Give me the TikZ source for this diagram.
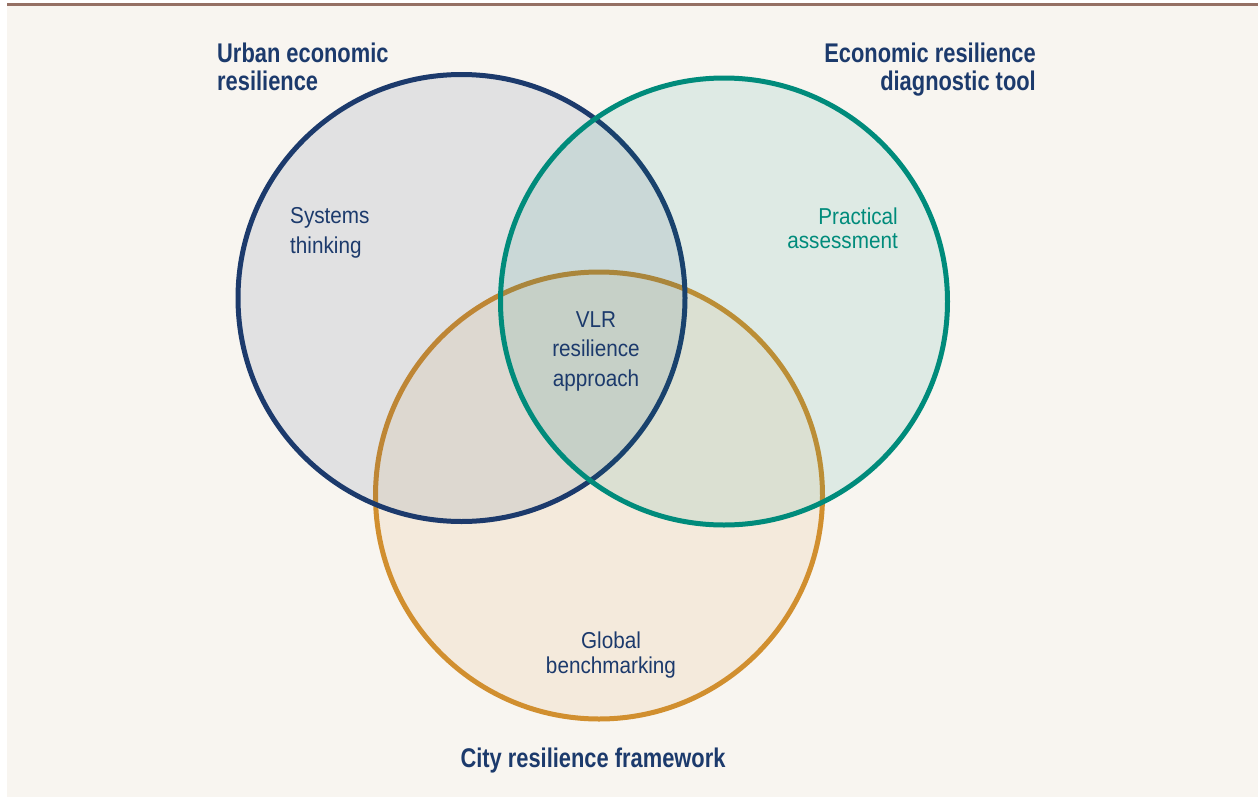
\documentclass[tikz,border=0pt]{standalone}
\usepackage{fontspec}
\setmainfont{Liberation Sans}
\newfontfamily\headfont[FakeStretch=0.81]{Liberation Sans}
\newfontfamily\bodyfont[FakeStretch=0.9]{Liberation Sans}
\definecolor{navy}{HTML}{1C3A6C}
\definecolor{tealc}{HTML}{008B7B}
\definecolor{goldc}{HTML}{D18F2F}
\definecolor{paper}{HTML}{F8F5F0}
\definecolor{rule}{HTML}{957064}
\begin{document}
\begin{tikzpicture}[x=1pt,y=-1pt,
  ring/.style={circle,inner sep=0pt,minimum size=447pt,line width=5pt,fill opacity=0.1},
  heading/.style={inner sep=0pt,text=navy,font=\headfont\bfseries\fontsize{27}{28}\selectfont},
  label/.style={inner sep=0pt,text=navy,font=\bodyfont\fontsize{23}{29.5}\selectfont}]
\useasboundingbox (0,0) rectangle (1258,798);
% page panel and top rule
\fill[white] (0,0) rectangle (1258,798);
\fill[paper] (7,5) rectangle (1258,797);
\draw[rule,line width=2.8pt] (7,4.3) -- (1258,4.3);
% the three circles
\node[ring,draw=goldc,fill=goldc] (goldC) at (599,495.5) {};
\node[ring,draw=navy,fill=navy] (blueC) at (461.5,298) {};
\node[ring,draw=tealc,fill=tealc] (tealC) at (724,301.5) {};
% headings
\node[heading,anchor=north west,align=left] (urban) at (217,42.5) {Urban economic\\resilience};
\node[heading,anchor=north east,align=right] (diag) at (1036,42.5) {Economic resilience\\diagnostic tool};
\node[heading,anchor=north] (city) at (593,748) {City resilience framework};
% inner labels
\node[label,anchor=north west,align=left,font=\bodyfont\fontsize{23}{30}\selectfont] (systems) at (290,207.5) {Systems\\thinking};
\node[label,anchor=north east,align=right,text=tealc,font=\bodyfont\fontsize{23}{24.5}\selectfont] (practical) at (898,207.5) {Practical\\assessment};
\node[label,anchor=north,align=center] (vlr) at (596,311) {VLR\\resilience\\approach};
\node[label,anchor=north,align=center,font=\bodyfont\fontsize{23}{25}\selectfont] (global) at (611,632) {Global\\benchmarking};
\end{tikzpicture}
\end{document}
